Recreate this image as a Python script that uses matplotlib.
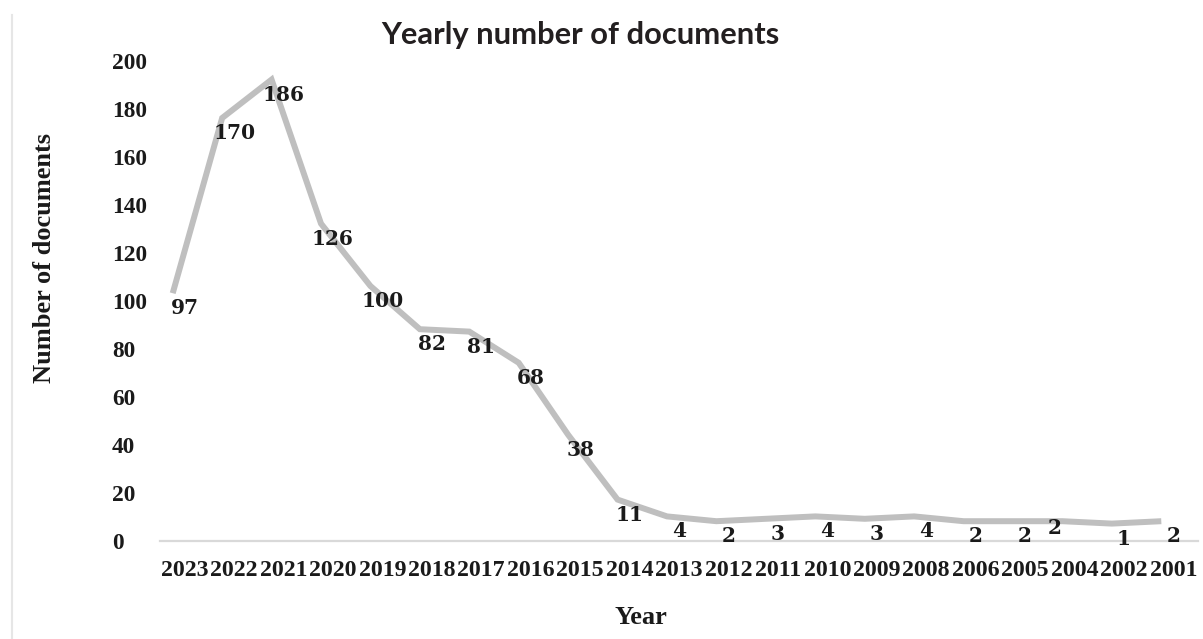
#!/usr/bin/env python3
"""Yearly number of documents line chart."""
import matplotlib
matplotlib.use("Agg")
import matplotlib.pyplot as plt
import matplotlib.transforms as mtransforms
from matplotlib.lines import Line2D

years = ["2023", "2022", "2021", "2020", "2019", "2018", "2017", "2016", "2015",
         "2014", "2013", "2012", "2011", "2010", "2009", "2008", "2006", "2005",
         "2004", "2002", "2001"]
docs = [97, 170, 186, 126, 100, 82, 81, 68, 38, 11, 4, 2, 3, 4, 3, 4, 2, 2, 2, 1, 2]
yticks = list(range(0, 201, 20))

W, H = 1203, 639
fig = plt.figure(figsize=(W / 100, H / 100), dpi=100)
ax = fig.add_axes([160 / W, 1 - 541 / H, (1198 - 160) / W, (541 - 61) / H])

x = list(range(len(years)))
# the line in the source sits a little up and left of the labels
shift = mtransforms.offset_copy(ax.transData, fig=fig, x=-12, y=15, units="dots")
ax.plot(x, docs, color="#bfbfbf", lw=4.3, solid_joinstyle="miter",
        solid_capstyle="butt", transform=shift, zorder=2)

for i, v in enumerate(docs):
    dx, dy = (0, 0)
    if years[i] == "2004":
        dx, dy = (-14, 6)
    ax.annotate(str(v), (i, v), xytext=(dx, dy), textcoords="offset points",
                ha="center", va="center", fontsize=14.5, family="DejaVu Serif",
                weight="bold", color="#1a1a1a", zorder=3)

ax.set_xlim(-0.5, len(years) - 0.5)
ax.set_ylim(0, 200)
ax.set_xticks(x)
ax.set_xticklabels(years)
ax.set_yticks(yticks)
ax.set_yticklabels([str(t) for t in yticks])

for lab in ax.get_xticklabels() + ax.get_yticklabels():
    lab.set_fontfamily("Liberation Serif")
    lab.set_fontweight("bold")
    lab.set_color("#1a1a1a")
for lab in ax.get_xticklabels():
    lab.set_fontsize(17.2)
for lab in ax.get_yticklabels():
    lab.set_fontsize(16.8)
    lab.set_horizontalalignment("left")

ax.tick_params(axis="y", length=0, pad=34.5)
ax.tick_params(axis="x", length=0, pad=14)
for side in ["left", "right", "top"]:
    ax.spines[side].set_visible(False)
ax.spines["bottom"].set_color("#d9d9d9")
ax.spines["bottom"].set_linewidth(1.6)

fig.text(580 / W, 1 - 35 / H, "Yearly number of documents", ha="center",
         va="center", fontsize=22.2, family="Lato", weight="bold", color="#231f20")
fig.text(641 / W, 1 - 618 / H, "Year", ha="center", va="center", fontsize=19,
         family="Liberation Serif", weight="bold", color="#1a1a1a")
fig.text(45 / W, 1 - 258 / H, "Number of documents", ha="center", va="center",
         rotation=90, fontsize=19, family="Liberation Serif", weight="bold",
         color="#1a1a1a")

# thin frame edge on the left of the source image
fig.add_artist(Line2D([12 / W, 12 / W], [0, 1 - 15 / H], transform=fig.transFigure,
                      color="#e6e6e6", lw=1.5))

fig.savefig("out.png", dpi=100)
